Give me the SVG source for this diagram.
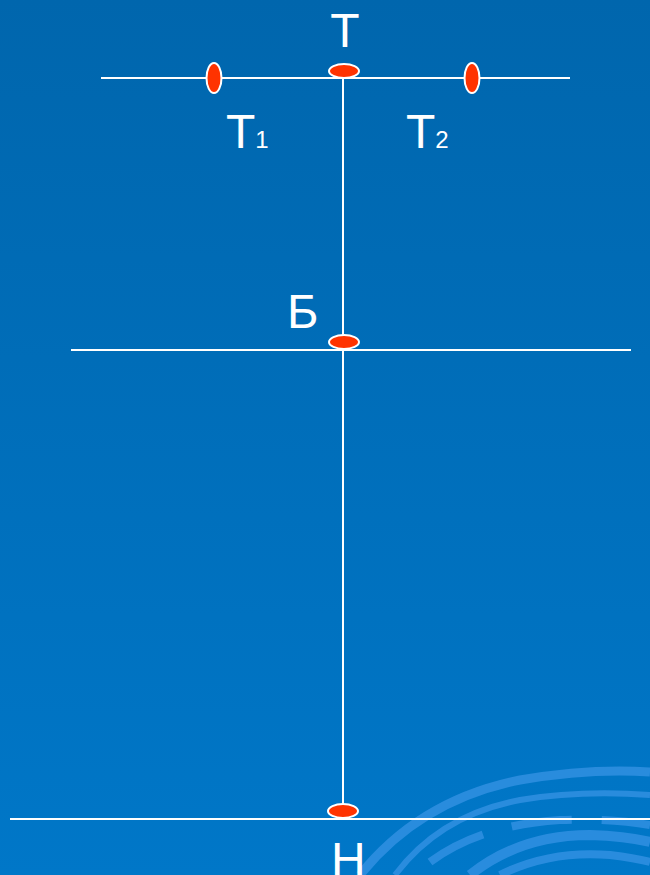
<svg xmlns="http://www.w3.org/2000/svg" width="650" height="875" viewBox="0 0 650 875">
<defs>
<linearGradient id="bg" x1="0" y1="0" x2="0" y2="1">
<stop offset="0" stop-color="#0066ad"/>
<stop offset="1" stop-color="#0077c8"/>
</linearGradient>
<clipPath id="cp"><rect x="0" y="0" width="650" height="875"/></clipPath>
</defs>
<style>
.ln{stroke:#ffffff;stroke-width:2;fill:none}
.pt{fill:#ff3300;stroke:#ffffff;stroke-width:2}
.lb{fill:#ffffff;font-family:"Liberation Sans",Arial,sans-serif;font-size:48px}
.sb{font-size:24px}
.sw{fill:none;stroke:#4a9ff0;stroke-opacity:0.55}
</style>
<rect width="650" height="875" fill="url(#bg)"/>
<g id="swirl" clip-path="url(#cp)">
<path class="sw" stroke-width="9" d="M360 875 Q420 800 520 780 Q590 768 650 772"/>
<path class="sw" stroke-width="6" d="M395 875 Q440 815 520 800 Q580 790 650 795"/>
<path class="sw" stroke-width="8" stroke-dasharray="60 30" d="M430 862 Q480 825 560 820 Q610 818 650 825"/>
<path class="sw" stroke-width="10" d="M470 875 Q520 835 590 835 Q625 836 650 842"/>
<path class="sw" stroke-width="8" d="M500 875 Q550 850 610 855 Q635 858 650 862"/>
</g>
<g id="connectors">
<line class="ln" x1="101" y1="78" x2="570" y2="78"/>
<line class="ln" x1="71" y1="350" x2="631" y2="350"/>
<line class="ln" x1="10" y1="819" x2="650" y2="819"/>
<line class="ln" x1="343" y1="78" x2="343" y2="812"/>
</g>
<g id="T"><ellipse class="pt" cx="344" cy="71" rx="15" ry="7"/><text class="lb" x="345" y="47" text-anchor="middle">T</text></g>
<g id="T1"><ellipse class="pt" cx="214" cy="78" rx="7.5" ry="15"/><text class="lb" x="226" y="148">T<tspan class="sb">1</tspan></text></g>
<g id="T2"><ellipse class="pt" cx="472" cy="78" rx="7.5" ry="15"/><text class="lb" x="406" y="148">T<tspan class="sb">2</tspan></text></g>
<g id="B"><ellipse class="pt" cx="344" cy="342" rx="15" ry="7"/><text class="lb" x="287" y="328">Б</text></g>
<g id="H"><ellipse class="pt" cx="343" cy="811" rx="15" ry="7"/><text class="lb" x="331" y="876">Н</text></g>
</svg>
